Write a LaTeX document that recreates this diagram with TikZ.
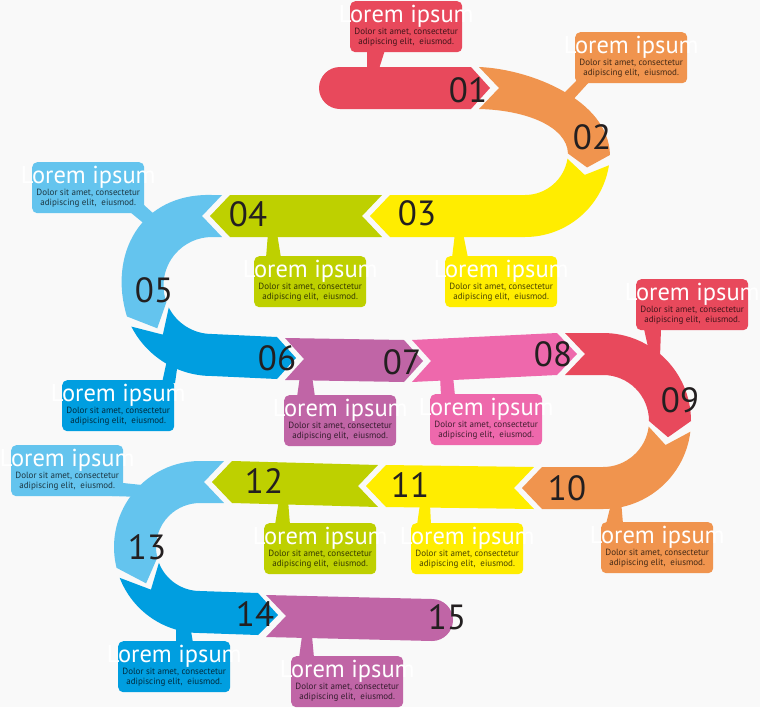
\documentclass[tikz,border=0pt]{standalone}
\usepackage{fontspec}
\setmainfont{PT Sans}
\usetikzlibrary{calc}
\definecolor{cred}{RGB}{232,73,92}
\definecolor{corange}{RGB}{240,148,78}
\definecolor{cyellow}{RGB}{255,237,0}
\definecolor{cgreen}{RGB}{190,208,0}
\definecolor{clblue}{RGB}{100,196,238}
\definecolor{cblue}{RGB}{0,158,224}
\definecolor{cpurple}{RGB}{192,101,166}
\definecolor{cpink}{RGB}{238,104,172}
\definecolor{cnum}{RGB}{35,31,32}
\definecolor{cbg}{RGB}{249,249,249}
\tikzset{
  boxst/.style={minimum width=112pt, minimum height=51pt, rounded corners=5pt, inner sep=0pt, anchor=north west},
  titlest/.style={text=white, font=\fontsize{24.5}{27}\selectfont, anchor=base, inner sep=0pt},
  smallst/.style={text=black, text opacity=0.72, font=\fontsize{9}{10}\selectfont, anchor=base, inner sep=0pt},
  numst/.style={text=cnum, font=\fontsize{35}{38}\selectfont, anchor=base, inner sep=0pt},
}
\newcommand\mybox[4]{%
  \node[boxst, fill=#2] (#1) at (#3,#4) {};
  \node[titlest] (#1t) at ($(#1.north)+(0,21)$) {Lorem ipsum};
  \node[smallst] (#1a) at ($(#1.north)+(0,33)$) {Dolor sit amet, consectetur};
  \node[smallst] (#1b) at ($(#1.north)+(0,43)$) {adipiscing elit,\ \ eiusmod.};
}
\begin{document}
\begin{tikzpicture}[x=1pt,y=-1pt]
\useasboundingbox (0,0) rectangle (760,707);
\fill[cbg] (0,0) rectangle (760,707);
\coordinate (A) at (525,152);
\coordinate (B) at (212,285.5);
\coordinate (C) at (603,421);
\coordinate (D) at (200,547);
% pointers
\fill[cred] (367,50) -- (385,50) -- (378,72) -- (367,72) -- cycle;
\fill[corange] (577,80) -- (591,80) -- (570,103) -- (560,97) -- cycle;
\fill[cyellow] (455,233) -- (463,233) -- (468,258) -- (452,258) -- cycle;
\fill[cgreen] (268,233) -- (277,233) -- (281,258) -- (266,258) -- cycle;
\fill[clblue] (130,212) -- (144,205) -- (154,214) -- (147,226) -- cycle;
\fill[cblue] (167,360) -- (178,362) -- (175,383) -- (162,383) -- cycle;
\fill[cpurple] (300,376) -- (312,376) -- (315,397) -- (297,397) -- cycle;
\fill[cpink] (440,376) -- (453,376) -- (455,396) -- (441,396) -- cycle;
\fill[cred] (644,329) -- (661,329) -- (660,357) -- (650,356) -- cycle;
\fill[corange] (612,500) -- (621,500) -- (623,524) -- (606,524) -- cycle;
\fill[cyellow] (420,504) -- (430,504) -- (431,525) -- (417,525) -- cycle;
\fill[cgreen] (279,500) -- (288,500) -- (290,525) -- (275,525) -- cycle;
\fill[clblue] (112,496) -- (123,483) -- (142,485) -- (141,497) -- cycle;
\fill[cblue] (176,625) -- (190,625) -- (193,643) -- (176,643) -- cycle;
\fill[cpurple] (302,636) -- (312,636) -- (314,658) -- (299,658) -- cycle;
% band segments
\fill[cred] (340,67) -- (471,67) -- (490,88) -- (471,109) -- (340,109) arc[start angle=90,end angle=270,radius=21] -- cycle;
\fill[corange] (479,67) .. controls (530,69) and (609,100) .. ($(A)+(2:85)$) -- ($(A)+(14:64)$) -- ($(A)+(2:43)$) .. controls (567,126) and (525,110) .. (479,109) -- (499,88) -- cycle;
\fill[cyellow] ($(A)+(9:85)$) arc[start angle=9,end angle=90,radius=85] -- (390,237) -- (370,216) -- (390,195) -- (525,195) arc[start angle=90,end angle=9,radius=43] -- ($(A)+(21:64)$) -- cycle;
\fill[cgreen] (382,195) -- (362,216) -- (382,237) -- (230,237) -- (210,216) -- (230,195) -- cycle;
\fill[clblue] (222,195) -- (212,195) .. controls (140,193) and (108,255) .. ($(B)+(160:90.5)$) -- ($(B)+(142:69.5)$) -- ($(B)+(160:48.5)$) arc[start angle=160,end angle=270,radius=48.5] -- (222,237) -- (202,216) -- cycle;
\fill[cblue] ($(B)+(153:90.5)$) arc[start angle=153,end angle=90,radius=90.5] -- (277,379) -- (296,358) -- (277,337) -- (212,334) arc[start angle=90,end angle=153,radius=48.5] -- ($(B)+(135:69.5)$) -- cycle;
\fill[cpurple] (285,338) -- (404,340) -- (423,361) -- (404,382) -- (285,380) -- (304,359) -- cycle;
\fill[cpink] (412,340) -- (557,333) -- (577,354) -- (557,375) -- (412,382) -- (431,361) -- cycle;
\fill[cred] (565,333) -- (603,333) arc[start angle=-90,end angle=0,radius=88] -- ($(C)+(14:67)$) -- ($(C)+(0:46)$) arc[start angle=0,end angle=-90,radius=46] -- (565,375) -- (585,354) -- cycle;
\fill[corange] ($(C)+(7:88)$) arc[start angle=7,end angle=90,radius=88] -- (542,509) -- (522,488) -- (542,467) -- (603,467) arc[start angle=90,end angle=7,radius=46] -- ($(C)+(21:67)$) -- cycle;
\fill[cyellow] (534,467) -- (514,488) -- (534,509) -- (386,507) -- (366,486) -- (386,465) -- cycle;
\fill[cgreen] (378,465) -- (358,486) -- (378,507) -- (232,503) -- (212,482) -- (232,461) -- cycle;
\fill[clblue] (224,461) -- (200,461) arc[start angle=270,end angle=166,radius=86] -- ($(D)+(146:65)$) -- ($(D)+(166:44)$) arc[start angle=166,end angle=270,radius=44] -- (224,503) -- (204,482) -- cycle;
\fill[cblue] ($(D)+(159:86)$) arc[start angle=159,end angle=90,radius=86] -- (258,635) -- (278,615) -- (258,593) -- (200,591) arc[start angle=90,end angle=159,radius=44] -- ($(D)+(139:65)$) -- cycle;
\fill[cpurple] (266,595) -- (432,599) arc[start angle=-90,end angle=90,radius=21] -- (266,637) -- (286,616) -- cycle;
% callout boxes
\mybox{b1}{cred}{350}{1}
\mybox{b2}{corange}{575}{32}
\mybox{b3}{cyellow}{445}{256}
\mybox{b4}{cgreen}{254}{256}
\mybox{b5}{clblue}{32}{162}
\mybox{b6}{cblue}{62}{380}
\mybox{b7}{cpurple}{284}{395}
\mybox{b8}{cpink}{430}{394}
\mybox{b9}{cred}{636}{279}
\mybox{b10}{corange}{601}{522}
\mybox{b11}{cyellow}{411}{523}
\mybox{b12}{cgreen}{264}{523}
\mybox{b13}{clblue}{11}{445}
\mybox{b14}{cblue}{118}{641}
\mybox{b15}{cpurple}{291}{656}
% numbers
\node[numst] (n01) at (468,102) {01};
\node[numst] (n02) at (592,149) {02};
\node[numst] (n03) at (417,225) {03};
\node[numst] (n04) at (248,226) {04};
\node[numst] (n05) at (154,302) {05};
\node[numst] (n06) at (277,370) {06};
\node[numst] (n07) at (402,374) {07};
\node[numst] (n08) at (553,366) {08};
\node[numst] (n09) at (680,412) {09};
\node[numst] (n10) at (567,500) {10};
\node[numst] (n11) at (410,497) {11};
\node[numst] (n12) at (264,493) {12};
\node[numst] (n13) at (147,559) {13};
\node[numst] (n14) at (255,626) {14};
\node[numst] (n15) at (447,629) {15};
\end{tikzpicture}
\end{document}
